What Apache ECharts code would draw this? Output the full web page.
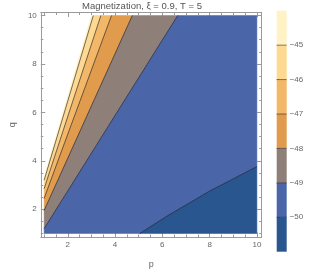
<!DOCTYPE html>
<html><head><meta charset="utf-8">
<script src="https://cdn.jsdelivr.net/npm/echarts@6/dist/echarts.min.js"></script>
<style>html,body{margin:0;padding:0;background:#fff}#c{width:309px;height:274px}</style>
</head><body><div id="c"></div>
<script>
// ---- data ----
const titleText = 'Magnetization, \u03BE = 0.9, T = 5';
const xName = 'p';
const yName = 'q';
const majorTicks = [2, 4, 6, 8, 10];
const minorTicks = [1, 1.5, 2.5, 3, 3.5, 4.5, 5, 5.5, 6.5, 7, 7.5, 8.5, 9, 9.5];
const levels = [-45, -46, -47, -48, -49, -50];
const colorbarRange = [-51, -44];
// contour boundaries, [p, q]
const edgeWhite = [[1, 3.35], [3.0, 10]];
const level45 = [[1, 3.2], [3.08, 10]];
const level46 = [[1, 2.85], [3.4, 10]];
const level47 = [[1, 2.45], [3.85, 10]];
const level48 = [[1, 1.95], [4.73, 10]];
const level49 = [[1, 1.2], [6.65, 10]];
const level50 = [[5.05, 1], [6.2, 1.72], [8, 2.75], [10, 3.76]];
const plotCorners = { topRight: [10, 10], bottomRight: [10, 1], bottomLeft: [1, 1] };

// ---- styles ----
const bandColors = ['#FFF2C4', '#FDD991', '#F2B867', '#E09B4D', '#8E7F79', '#4A66A8', '#2A5690'];
const axisGray = '#9a9a9a';
const textGray = '#666';

const rev = a => a.slice().reverse();
const regions = [
  edgeWhite.concat(rev(level45)),
  level45.concat(rev(level46)),
  level46.concat(rev(level47)),
  level47.concat(rev(level48)),
  level48.concat(rev(level49)),
  level49.concat([plotCorners.topRight], rev(level50), [plotCorners.bottomLeft]),
  level50.concat([plotCorners.bottomRight])
];
const contourLines = [level45, level46, level47, level48, level49, level50];

const bandEdges = [colorbarRange[1]].concat(levels, [colorbarRange[0]]);
const bands = bandColors.map((c, i) => [bandEdges[i], bandEdges[i + 1]]);

const xMin = 0.859, xMax = 10.203, yMin = 0.855, yMax = 10.125;
const fontFam = '"Liberation Sans", Arial, sans-serif';
const minus = v => String(v).replace('-', '\u2212');

function xAx(pos, major, labels, line) {
  return {
    type: 'value', gridIndex: 0, position: pos, min: xMin, max: xMax,
    splitLine: { show: false },
    axisLine: { show: line, lineStyle: { color: axisGray, width: 1 } },
    axisTick: { show: true, inside: true, length: major ? 4.5 : 2.5, customValues: major ? majorTicks : minorTicks, lineStyle: { color: axisGray } },
    axisLabel: { show: labels, customValues: majorTicks, fontSize: 8, color: textGray, margin: 4, fontFamily: fontFam },
    name: labels ? xName : '', nameLocation: 'middle', nameGap: 23,
    nameTextStyle: { fontSize: 9, color: textGray, fontFamily: fontFam }
  };
}
function yAx(pos, major, labels, line) {
  return {
    type: 'value', gridIndex: 0, position: pos, min: yMin, max: yMax,
    splitLine: { show: false },
    axisLine: { show: line, lineStyle: { color: axisGray, width: 1 } },
    axisTick: { show: true, inside: true, length: major ? 4.5 : 2.5, customValues: major ? majorTicks : minorTicks, lineStyle: { color: axisGray } },
    axisLabel: { show: labels, customValues: majorTicks, fontSize: 8, color: textGray, margin: 4, fontFamily: fontFam },
    name: labels ? yName : '', nameLocation: 'middle', nameGap: 23, nameRotate: 90,
    nameTextStyle: { fontSize: 9, color: textGray, fontFamily: fontFam }
  };
}

const chart = echarts.init(document.getElementById('c'), null, { renderer: 'canvas' });
chart.setOption({
  animation: false,
  backgroundColor: '#fff',
  title: {
    text: titleText, left: 142, top: 1, padding: 0, textAlign: 'center',
    textStyle: { fontSize: 9.5, fontWeight: 'normal', color: '#555', fontFamily: fontFam }
  },
  grid: [
    { left: 22.5, right: 47.3, top: 12.5, bottom: 24.7, containLabel: false },
    { left: 276.7, right: 22.3, top: 10.7, bottom: 22.3, containLabel: false }
  ],
  xAxis: [
    xAx('bottom', true, true, true),
    xAx('bottom', false, false, false),
    xAx('top', true, false, true),
    xAx('top', false, false, false),
    { type: 'value', gridIndex: 1, min: 0, max: 1, show: false }
  ],
  yAxis: [
    yAx('left', true, true, true),
    yAx('left', false, false, false),
    yAx('right', true, false, true),
    yAx('right', false, false, false),
    {
      type: 'value', gridIndex: 1, position: 'right', min: colorbarRange[0], max: colorbarRange[1],
      splitLine: { show: false }, axisLine: { show: false },
      axisTick: { show: true, length: 3, customValues: levels, lineStyle: { color: axisGray } },
      axisLabel: { show: true, customValues: levels, formatter: minus, fontSize: 8, color: textGray, margin: 3, fontFamily: fontFam }
    }
  ],
  series: [
    {
      type: 'custom', xAxisIndex: 0, yAxisIndex: 0, silent: true, z: 1,
      data: regions.map(() => [5, 5]),
      renderItem: (params, api) => ({
        type: 'polygon',
        shape: { points: regions[params.dataIndex].map(pt => api.coord(pt)) },
        style: { fill: bandColors[params.dataIndex], stroke: bandColors[params.dataIndex], lineWidth: 0.5 }
      })
    }
  ].concat(contourLines.map(d => ({
    type: 'line', xAxisIndex: 0, yAxisIndex: 0, data: d, showSymbol: false, symbol: 'none',
    silent: true, z: 3, lineStyle: { color: 'rgba(25,25,35,0.75)', width: 0.8 }
  }))).concat([
    {
      type: 'custom', xAxisIndex: 4, yAxisIndex: 4, silent: true, z: 2,
      data: bands.map(b => [0.5, (b[0] + b[1]) / 2]),
      renderItem: (params, api) => {
        const b = bands[params.dataIndex];
        const p0 = api.coord([0, b[0]]);
        const p1 = api.coord([1, b[1]]);
        const children = [{
          type: 'rect',
          shape: { x: p0[0], y: p0[1], width: p1[0] - p0[0], height: p1[1] - p0[1] },
          style: { fill: bandColors[params.dataIndex] }
        }];
        if (params.dataIndex > 0) {
          children.push({
            type: 'line',
            shape: { x1: p0[0], y1: p0[1], x2: p1[0], y2: p0[1] },
            style: { stroke: 'rgba(40,30,30,0.55)', lineWidth: 1 }
          });
        }
        return { type: 'group', children };
      }
    }
  ])
});
</script>
</body></html>
